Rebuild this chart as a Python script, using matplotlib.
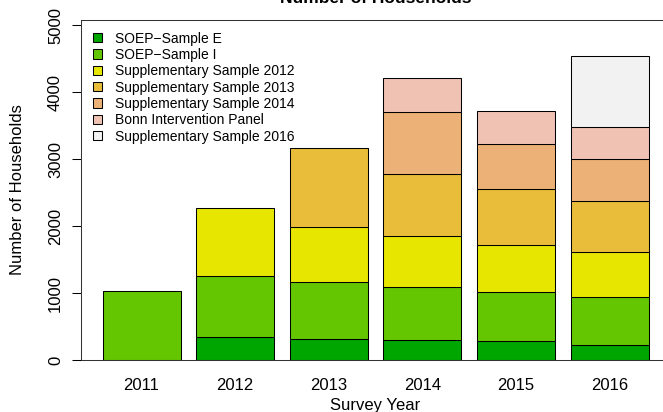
import matplotlib
matplotlib.use("Agg")
import matplotlib.pyplot as plt
from matplotlib.patches import Patch
import numpy as np

plt.rcParams['font.family'] = ['Liberation Sans', 'DejaVu Sans']

years = ["2011", "2012", "2013", "2014", "2015", "2016"]
series_names = ["SOEP\u2212Sample E", "SOEP\u2212Sample I", "Supplementary Sample 2012",
                "Supplementary Sample 2013", "Supplementary Sample 2014",
                "Bonn Intervention Panel", "Supplementary Sample 2016"]
sample_e = [0, 339, 309, 294, 279, 224]
sample_i = [1034, 915, 851, 791, 736, 716]
supp_2012 = [0, 1010, 830, 766, 706, 672]
supp_2013 = [0, 0, 1169, 925, 836, 761]
supp_2014 = [0, 0, 0, 925, 667, 623]
bonn_panel = [0, 0, 0, 503, 497, 486]
supp_2016 = [0, 0, 0, 0, 0, 1055]
series = [sample_e, sample_i, supp_2012, supp_2013, supp_2014, bonn_panel, supp_2016]
colors = ["#00A600", "#63C600", "#E6E600", "#E9BD3A", "#ECB176", "#EFC2B3", "#F2F2F2"]

W, H = 663, 412
fig = plt.figure(figsize=(W / 100, H / 100), dpi=100)
left, right, top, bottom = 80.7, 670.5, 20, 360
ax = fig.add_axes([left / W, 1 - bottom / H, (right - left) / W, (bottom - top) / H])

x = 0.7 + 1.2 * np.arange(len(years))
base = np.zeros(len(years))
for vals, c in zip(series, colors):
    v = np.array(vals, dtype=float)
    mask = v > 0
    ax.bar(x[mask], v[mask], width=1.0, bottom=base[mask], color=c,
           edgecolor="black", linewidth=0.75)
    base += v

ax.set_xlim(-0.08, 7.48)
ax.set_ylim(0, 5075)
ax.set_yticks([0, 1000, 2000, 3000, 4000, 5000])
ax.set_yticklabels(["0", "1000", "2000", "3000", "4000", "5000"], rotation=90, va="center")
ax.set_xticks(x)
ax.set_xticklabels(years)
ax.tick_params(axis="y", length=6.7, width=0.75, pad=6, labelsize=12, color="black")
ax.tick_params(axis="x", length=0, pad=13, labelsize=12)
for s in ax.spines.values():
    s.set_linewidth(0.75)
    s.set_color("#333333")

fig.text((left + right) / 2 / W, 1 - 3 / H, "Number of Households", ha="center",
         va="baseline", fontsize=12.5, fontweight="bold")
fig.text((left + right) / 2 / W, 2 / H, "Survey Year", ha="center", va="baseline", fontsize=12)
fig.text(18 / W, 1 - 190 / H, "Number of Households", ha="center", va="center",
         rotation=90, fontsize=12)

handles = [Patch(facecolor=c, edgecolor="black", linewidth=0.75) for c in colors]
leg = ax.legend(handles, series_names, loc="upper left",
                bbox_to_anchor=(92.5 / W, 1 - 31.5 / H), bbox_transform=fig.transFigure,
                frameon=False, fontsize=10, handlelength=0.65, handleheight=0.65,
                handletextpad=0.95, labelspacing=0.17, borderpad=0, borderaxespad=0)

fig.savefig("out.png", dpi=100)
